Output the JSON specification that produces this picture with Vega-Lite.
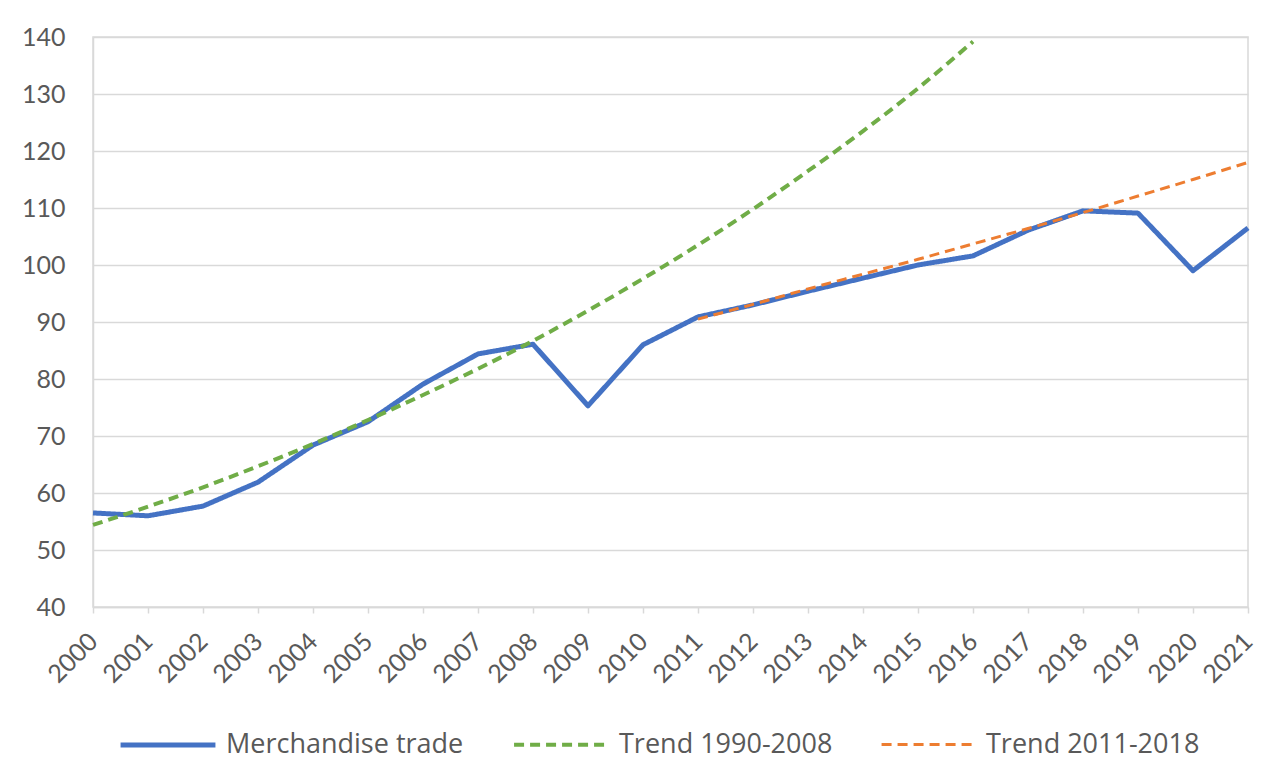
{
  "$schema": "https://vega.github.io/schema/vega-lite/v6.json",
  "width": 1155,
  "height": 570,
  "autosize": {"type": "none"},
  "padding": {"left": 93, "top": 37, "right": 32, "bottom": 158},
  "background": "white",
  "data": {
    "values": [
      {"year": 2000, "series": "Merchandise trade", "value": 56.5},
      {"year": 2001, "series": "Merchandise trade", "value": 56.0},
      {"year": 2002, "series": "Merchandise trade", "value": 57.7},
      {"year": 2003, "series": "Merchandise trade", "value": 61.9},
      {"year": 2004, "series": "Merchandise trade", "value": 68.4},
      {"year": 2005, "series": "Merchandise trade", "value": 72.5},
      {"year": 2006, "series": "Merchandise trade", "value": 79.1},
      {"year": 2007, "series": "Merchandise trade", "value": 84.4},
      {"year": 2008, "series": "Merchandise trade", "value": 86.1},
      {"year": 2009, "series": "Merchandise trade", "value": 75.3},
      {"year": 2010, "series": "Merchandise trade", "value": 86.0},
      {"year": 2011, "series": "Merchandise trade", "value": 90.9},
      {"year": 2012, "series": "Merchandise trade", "value": 93.0},
      {"year": 2013, "series": "Merchandise trade", "value": 95.4},
      {"year": 2014, "series": "Merchandise trade", "value": 97.7},
      {"year": 2015, "series": "Merchandise trade", "value": 100.0},
      {"year": 2016, "series": "Merchandise trade", "value": 101.6},
      {"year": 2017, "series": "Merchandise trade", "value": 106.1},
      {"year": 2018, "series": "Merchandise trade", "value": 109.5},
      {"year": 2019, "series": "Merchandise trade", "value": 109.1},
      {"year": 2020, "series": "Merchandise trade", "value": 99.0},
      {"year": 2021, "series": "Merchandise trade", "value": 106.5},
      {"year": 2000, "series": "Trend 1990-2008", "value": 54.4},
      {"year": 2001, "series": "Trend 1990-2008", "value": 57.6},
      {"year": 2002, "series": "Trend 1990-2008", "value": 61.0},
      {"year": 2003, "series": "Trend 1990-2008", "value": 64.7},
      {"year": 2004, "series": "Trend 1990-2008", "value": 68.6},
      {"year": 2005, "series": "Trend 1990-2008", "value": 72.8},
      {"year": 2006, "series": "Trend 1990-2008", "value": 77.2},
      {"year": 2007, "series": "Trend 1990-2008", "value": 81.8},
      {"year": 2008, "series": "Trend 1990-2008", "value": 86.7},
      {"year": 2009, "series": "Trend 1990-2008", "value": 92.0},
      {"year": 2010, "series": "Trend 1990-2008", "value": 97.6},
      {"year": 2011, "series": "Trend 1990-2008", "value": 103.5},
      {"year": 2012, "series": "Trend 1990-2008", "value": 109.8},
      {"year": 2013, "series": "Trend 1990-2008", "value": 116.5},
      {"year": 2014, "series": "Trend 1990-2008", "value": 123.5},
      {"year": 2015, "series": "Trend 1990-2008", "value": 131.0},
      {"year": 2016, "series": "Trend 1990-2008", "value": 139.2},
      {"year": 2011, "series": "Trend 2011-2018", "value": 90.5},
      {"year": 2012, "series": "Trend 2011-2018", "value": 93.1},
      {"year": 2013, "series": "Trend 2011-2018", "value": 95.8},
      {"year": 2014, "series": "Trend 2011-2018", "value": 98.4},
      {"year": 2015, "series": "Trend 2011-2018", "value": 101.0},
      {"year": 2016, "series": "Trend 2011-2018", "value": 103.7},
      {"year": 2017, "series": "Trend 2011-2018", "value": 106.4},
      {"year": 2018, "series": "Trend 2011-2018", "value": 109.2},
      {"year": 2019, "series": "Trend 2011-2018", "value": 112.1},
      {"year": 2020, "series": "Trend 2011-2018", "value": 115.0},
      {"year": 2021, "series": "Trend 2011-2018", "value": 118.0}
    ]
  },
  "encoding": {
    "x": {
      "field": "year",
      "type": "quantitative",
      "scale": {"domain": [2000, 2021], "nice": false, "zero": false},
      "axis": {
        "title": null,
        "values": [2000, 2001, 2002, 2003, 2004, 2005, 2006, 2007, 2008, 2009, 2010, 2011, 2012, 2013, 2014, 2015, 2016, 2017, 2018, 2019, 2020, 2021],
        "format": "d",
        "labelAngle": -45,
        "labelAlign": "right",
        "labelBaseline": "middle",
        "labelPadding": 24,
        "labelFontSize": 25,
        "grid": false,
        "ticks": true,
        "tickSize": 6,
        "labelOverlap": false
      }
    },
    "y": {
      "field": "value",
      "type": "quantitative",
      "scale": {"domain": [40, 140], "nice": false, "zero": false},
      "axis": {
        "title": null,
        "values": [40, 50, 60, 70, 80, 90, 100, 110, 120, 130, 140],
        "ticks": false,
        "labelPadding": 28,
        "labelFontSize": 25,
        "grid": true
      }
    },
    "color": {
      "field": "series",
      "type": "nominal",
      "scale": {
        "domain": ["Merchandise trade", "Trend 1990-2008", "Trend 2011-2018"],
        "range": ["#4472C4", "#70AD47", "#ED7D31"]
      },
      "legend": {
        "title": null,
        "orient": "none",
        "direction": "horizontal",
        "legendX": 25,
        "legendY": 658,
        "columnPadding": 42,
        "symbolType": "stroke",
        "symbolSize": 9000,
        "labelFontSize": 27,
        "labelColor": "#595959",
        "labelFont": "Open Sans",
        "labelOffset": 8,
        "labelLimit": 400
      }
    },
    "strokeDash": {
      "field": "series",
      "type": "nominal",
      "scale": {
        "domain": ["Merchandise trade", "Trend 1990-2008", "Trend 2011-2018"],
        "range": [[1, 0], [10, 6], [10, 6]]
      },
      "legend": null
    },
    "strokeWidth": {
      "field": "series",
      "type": "nominal",
      "scale": {
        "domain": ["Merchandise trade", "Trend 1990-2008", "Trend 2011-2018"],
        "range": [5, 3, 3]
      },
      "legend": null
    }
  },
  "layer": [
    {
      "transform": [{"filter": "datum.series === 'Merchandise trade'"}],
      "mark": {"type": "line", "strokeJoin": "round", "strokeCap": "butt"}
    },
    {
      "transform": [{"filter": "datum.series !== 'Merchandise trade'"}],
      "mark": {"type": "line", "interpolate": "monotone"}
    }
  ],
  "config": {
    "font": "Lato",
    "view": {"stroke": "#d9d9d9", "strokeWidth": 1.5},
    "axis": {
      "labelFont": "Lato",
      "labelColor": "#595959",
      "domainColor": "#d9d9d9",
      "domainWidth": 1.5,
      "tickColor": "#d9d9d9",
      "tickWidth": 1.5,
      "gridColor": "#d9d9d9",
      "gridWidth": 1.5
    }
  }
}
